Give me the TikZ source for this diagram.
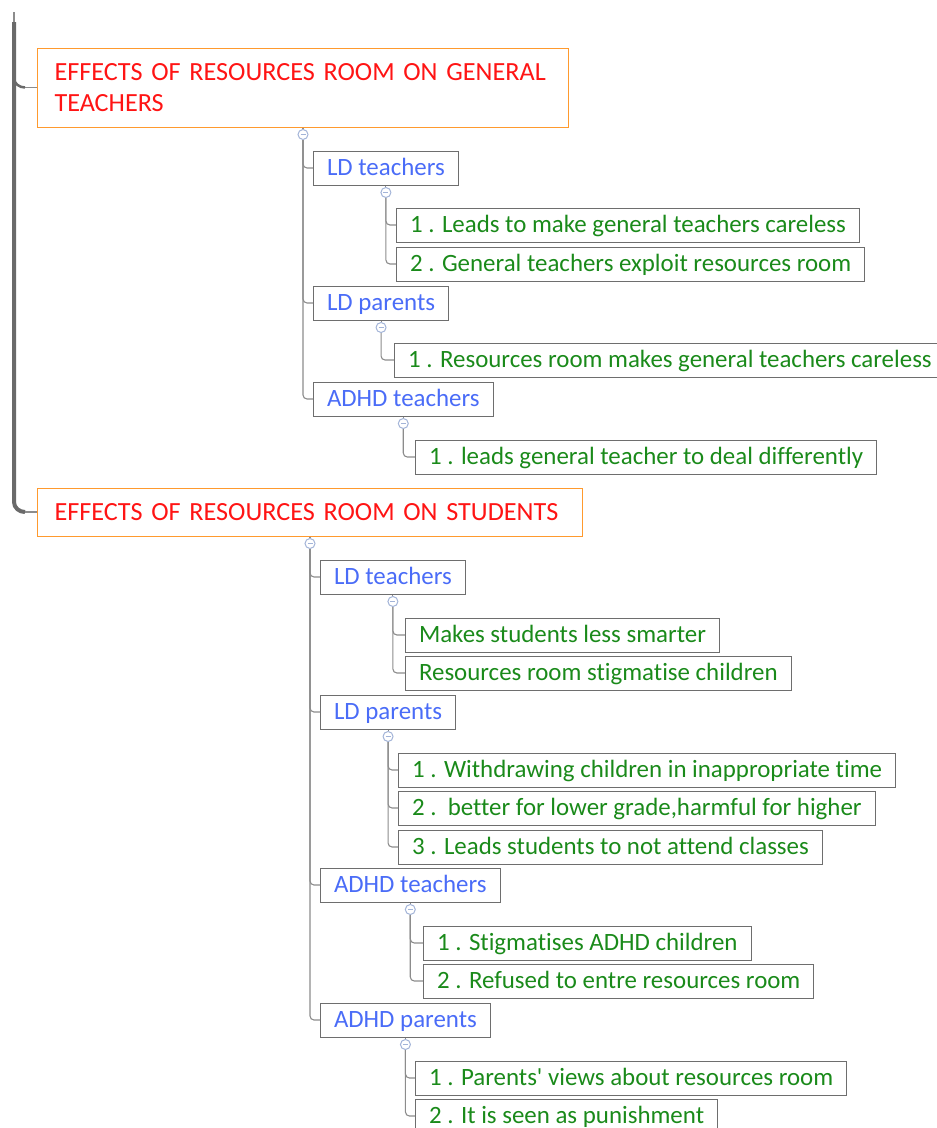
\documentclass[tikz,border=0pt]{standalone}
\usepackage{fontspec}
\setmainfont{Carlito}[Ligatures={TeX,NoCommon}]
\definecolor{headred}{HTML}{FF1414}
\definecolor{headorange}{HTML}{FF9A2E}
\definecolor{topicblue}{HTML}{4A6CF7}
\definecolor{leafgreen}{HTML}{1A8A1A}
\definecolor{boxgray}{HTML}{6E6E6E}
\definecolor{linegray}{HTML}{8C8C8C}
\definecolor{spinegray}{HTML}{6A6A6A}
\definecolor{circblue}{HTML}{A3B4D8}
\tikzset{
  head/.style={draw=headorange, line width=1pt, anchor=west, align=left,
    text=headred, inner xsep=17pt, inner ysep=0pt,
    font=\fontsize{26.2}{31}\selectfont},
  box/.style={draw=boxgray, line width=1pt, anchor=west, inner xsep=13.5pt,
    inner ysep=0pt, minimum height=34pt, text height=14pt, text depth=0pt,
    font=\fontsize{24.9}{28}\selectfont},
  topic/.style={box, text=topicblue},
  leaf/.style={box, text=leafgreen},
  fold/.style={circle, draw=circblue, fill=white, line width=1pt,
    minimum size=10pt, inner sep=0pt,
    path picture={\draw[circblue, line width=1.1pt]
      ([xshift=-2.5pt]path picture bounding box.center) --
      ([xshift=2.5pt]path picture bounding box.center);}},
  conn/.style={draw=linegray, line width=1.1pt},
  link/.style={conn, rounded corners=4pt},
  spine/.style={draw=spinegray, line width=4pt},
}
\begin{document}
\begin{tikzpicture}[x=1pt, y=-1pt]
\useasboundingbox (0,0) rectangle (937,1128);

% ---------- first main topic ----------
\node[head, minimum height=79pt, text width=497pt]
  (A) at (37,87.5) {\mbox{EFFECTS OF RESOURCES ROOM ON GENERAL}\\\mbox{TEACHERS}};
\node[fold] (Ac) at ([yshift=-7pt]A.south) {};

\node[topic] (A1) at (313,168) {LD teachers};
\node[fold]  (A1c) at ([yshift=-7pt]A1.south) {};
\node[leaf]  (A11) at (396,225) {1 . Leads to make general teachers careless};
\node[leaf]  (A12) at (396,264) {2 . General teachers exploit resources room};

\node[topic] (A2) at (313,303) {LD parents};
\node[fold]  (A2c) at ([yshift=-7pt]A2.south) {};
\node[leaf]  (A21) at (394,360) {1 . Resources room makes general teachers careless};

\node[topic] (A3) at (313,399) {ADHD teachers};
\node[fold]  (A3c) at ([yshift=-7pt]A3.south) {};
\node[leaf]  (A31) at (415,457) {1 . leads general teacher to deal differently};

% ---------- second main topic ----------
\node[head, minimum height=48pt, text width=511pt, text height=16.5pt, text depth=0pt]
  (B) at (37,512) {\mbox{EFFECTS OF RESOURCES ROOM ON STUDENTS}};
\node[fold] (Bc) at ([yshift=-7pt]B.south) {};

\node[topic] (B1) at (320,577) {LD teachers};
\node[fold]  (B1c) at ([yshift=-7pt]B1.south) {};
\node[leaf]  (B11) at (405,635) {Makes students less smarter};
\node[leaf]  (B12) at (405,673) {Resources room stigmatise children};

\node[topic] (B2) at (320,712) {LD parents};
\node[fold]  (B2c) at ([yshift=-7pt]B2.south) {};
\node[leaf]  (B21) at (398,770) {1 . Withdrawing children in inappropriate time};
\node[leaf]  (B22) at (398,808) {2 .~~better for lower grade,harmful for higher};
\node[leaf]  (B23) at (398,847) {3 . Leads students to not attend classes};

\node[topic] (B3) at (320,885) {ADHD teachers};
\node[fold]  (B3c) at ([yshift=-7pt]B3.south) {};
\node[leaf]  (B31) at (423,943) {1 . Stigmatises ADHD children};
\node[leaf]  (B32) at (423,981) {2 . Refused to entre resources room};

\node[topic] (B4) at (320,1020) {ADHD parents};
\node[fold]  (B4c) at ([yshift=-7pt]B4.south) {};
\node[leaf]  (B41) at (415,1078) {1 . Parents\textquotesingle\ views about resources room};
\node[leaf]  (B42) at (415,1116) {2 . It is seen as punishment};

% ---------- left spine ----------
\coordinate (sTop) at (14,12);
\coordinate (sStart) at (14,22);
\coordinate (sEnd) at (14,502);
\coordinate (bA) at (25,87.5);
\coordinate (bB) at (25,512);
\draw[draw=linegray, line width=1.5pt] (sTop) -- (sStart);
\draw[spine] (sStart) -- (sEnd) to[out=-90, in=180] (bB);
\draw[draw=spinegray, line width=2.5pt] (14,78) to[out=-90, in=180] (bA);
\draw[conn] (bA) -- (A.west);
\draw[conn] (bB) -- (B.west);

% ---------- branches ----------
\foreach \p/\c in {A/Ac, A1/A1c, A2/A2c, A3/A3c, B/Bc, B1/B1c, B2/B2c, B3/B3c, B4/B4c}
  \draw[conn] (\p.south) -- (\c);
\foreach \c/\k in {Ac/A1, Ac/A2, Ac/A3, A1c/A11, A1c/A12, A2c/A21, A3c/A31,
                   Bc/B1, Bc/B2, Bc/B3, Bc/B4, B1c/B11, B1c/B12,
                   B2c/B21, B2c/B22, B2c/B23, B3c/B31, B3c/B32, B4c/B41, B4c/B42}
  \draw[link] (\c) |- (\k.west);
\end{tikzpicture}
\end{document}
